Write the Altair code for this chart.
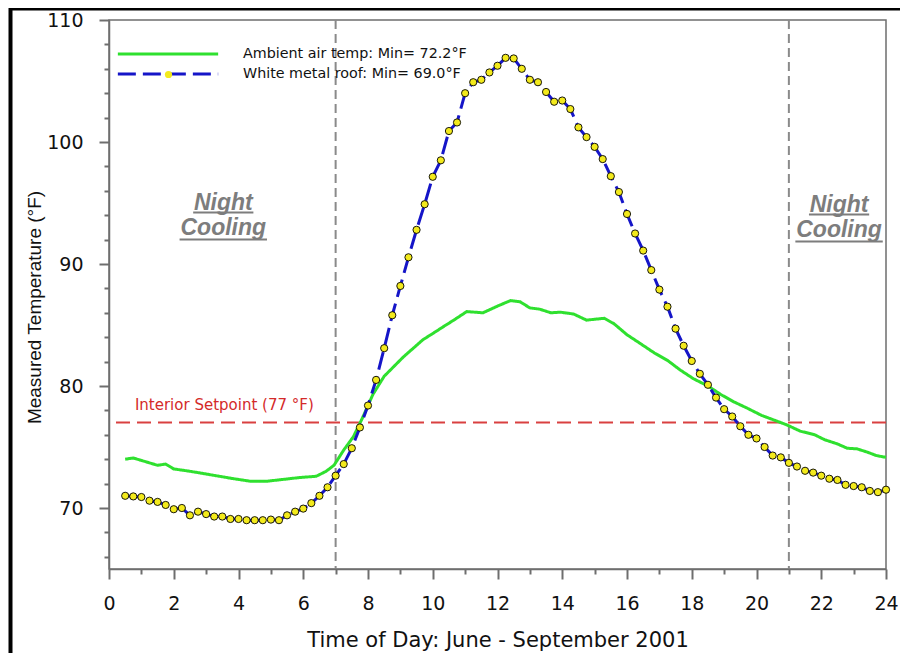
import altair as alt
import pandas as pd

# ---------------- data ----------------
series_names = ["Ambient air temp: Min= 72.2°F", "White metal roof: Min= 69.0°F"]
series_colors = ["#2fe02f", "#1515c8"]
series_dashes = [[1, 0], [18, 7]]

roof_hours = [
    0.5, 0.75, 1.0, 1.25, 1.5, 1.75, 2.0, 2.25,
    2.5, 2.75, 3.0, 3.25, 3.5, 3.75, 4.0, 4.25,
    4.5, 4.75, 5.0, 5.25, 5.5, 5.75, 6.0, 6.25,
    6.5, 6.75,
    7.0, 7.25, 7.5, 7.75, 8.0, 8.25, 8.5, 8.75,
    9.0, 9.25, 9.5, 9.75, 10.0, 10.25, 10.5, 10.75,
    11.0, 11.25, 11.5, 11.75, 12.0, 12.25, 12.5, 12.75,
    13.0, 13.25, 13.5, 13.75, 14.0, 14.25, 14.5, 14.75,
    15.0, 15.25, 15.5, 15.75, 16.0, 16.25, 16.5, 16.75,
    17.0, 17.25, 17.5, 17.75, 18.0, 18.25, 18.5, 18.75,
    19.0, 19.25, 19.5, 19.75, 20.0, 20.25, 20.5, 20.75,
    21.0, 21.25, 21.5, 21.75, 22.0, 22.25, 22.5, 22.75,
    23.0, 23.25, 23.5, 23.75, 24.0,
]
roof_temp = [
    71.0, 70.95, 70.9, 70.6, 70.5, 70.25, 69.9, 70.0,
    69.4, 69.7, 69.5, 69.3, 69.3, 69.1, 69.1, 69.0,
    69.0, 69.0, 69.05, 69.0, 69.4, 69.7, 69.95, 70.4,
    71.0, 71.7,
    72.65, 73.6, 74.9, 76.6, 78.4, 80.5, 83.1, 85.8,
    88.2, 90.55, 92.8, 94.9, 97.15, 98.5, 100.9, 101.6,
    104.0, 104.9, 105.1, 105.7, 106.25, 106.9, 106.85, 106.0,
    105.1, 104.9, 104.1, 103.3, 103.4, 102.7, 101.2, 100.4,
    99.6, 98.6, 97.2, 95.9, 94.1, 92.5, 91.1, 89.5,
    87.9, 86.5, 84.7, 83.3, 82.05, 81.0, 80.1, 79.05,
    78.1, 77.5, 76.7, 76.0, 75.7, 75.0, 74.3, 74.15,
    73.7, 73.4, 73.05, 72.9, 72.65, 72.4, 72.3, 71.9,
    71.8, 71.7, 71.4, 71.3, 71.5,
]

amb_hours = [
    0.5, 0.75, 1.0, 1.5, 1.75, 2.0, 2.4, 2.75, 3.3, 3.85, 4.35, 4.9,
    5.4, 5.9, 6.4, 6.7, 6.95, 7.25, 7.55, 7.85, 8.15, 8.5, 8.8, 9.1,
    9.4, 9.7, 10.0, 10.35, 10.65, 11.05, 11.55, 12.0, 12.4, 12.7, 13.0,
    13.3, 13.65, 13.95, 14.35, 14.75, 15.3, 15.6, 16.0, 16.4, 16.85,
    17.25, 17.65, 18.05, 18.5, 18.9, 19.3, 19.7, 20.15, 20.55, 20.95,
    21.35, 21.8, 22.1, 22.5, 22.8, 23.1, 23.4, 23.7, 24.0,
]
amb_temp = [
    74.0, 74.1, 73.9, 73.5, 73.6, 73.2, 73.05, 72.9, 72.65, 72.4, 72.2, 72.2,
    72.35, 72.5, 72.6, 73.0, 73.5, 74.75, 75.85, 77.5, 79.3, 80.8, 81.6, 82.4,
    83.1, 83.8, 84.3, 84.9, 85.4, 86.1, 86.0, 86.55, 87.0, 86.9, 86.4,
    86.3, 86.0, 86.05, 85.9, 85.4, 85.55, 85.1, 84.2, 83.5, 82.7,
    82.1, 81.3, 80.6, 80.0, 79.3, 78.7, 78.2, 77.6, 77.2, 76.8,
    76.3, 76.0, 75.6, 75.25, 74.9, 74.85, 74.6, 74.3, 74.15,
]

setpoint = [77]
period_bounds = [7, 21]

y_major = [70, 80, 90, 100, 110]
y_minor = [66, 68, 72, 74, 76, 78, 82, 84, 86, 88, 92, 94, 96, 98,
           102, 104, 106, 108]
x_major = [0, 2, 4, 6, 8, 10, 12, 14, 16, 18, 20, 22, 24]
x_minor = [1, 3, 5, 7, 9, 11, 13, 15, 17, 19, 21, 23]

night_text = ["Night", "Cooling", "Night", "Cooling"]
night_x = [3.53, 3.53, 22.55, 22.55]
night_y = [95.0, 92.95, 94.85, 92.8]
underline_x1 = [2.6, 2.18, 21.62, 21.2]
underline_x2 = [4.46, 4.88, 23.48, 23.9]
underline_y = [94.22, 92.0, 94.05, 91.85]

setpoint_label = ["Interior Setpoint (77 °F)"]
setpoint_label_x = [0.8]
setpoint_label_y = [78.46]

# ---------------- styling ----------------
FONT = "DejaVu Sans"
FONT2 = "Liberation Sans"
GRAY = "#6e6e6e"
MARKER_FILL = "#f3ea1c"
W, H = 777, 549

xs = alt.Scale(domain=[0, 24], nice=False, zero=False)
ys = alt.Scale(domain=[65, 110], nice=False, zero=False)

x_axis_major = alt.Axis(
    values=x_major, ticks=True, tickSize=10, tickWidth=2, tickColor=GRAY,
    domainColor=GRAY, domainWidth=1.5, grid=False, orient="bottom", zindex=1,
    labelFont=FONT, labelFontSize=19, labelColor="#111111", labelPadding=15,
    labelFlush=False,
    title="Time of Day: June - September 2001", titleFont=FONT,
    titleFontSize=21, titleFontWeight="normal", titleColor="#111111",
    titleY=60,
)
y_axis_major = alt.Axis(
    values=y_major, ticks=True, tickSize=10, tickWidth=2, tickColor=GRAY,
    domainColor=GRAY, domainWidth=1.5, grid=False, orient="left", zindex=1,
    labelFont=FONT, labelFontSize=19, labelColor="#111111", labelPadding=16,
    labelFlush=False,
    title="Measured Temperature (°F)", titleFont=FONT2, titleFontSize=19,
    titleFontWeight="normal", titleColor="#111111", titleX=-65, titleY=287,
)
x_axis_minor = alt.Axis(values=x_minor, ticks=True, tickSize=5, tickWidth=2,
                        tickColor=GRAY, domain=False, labels=False, zindex=1,
                        grid=False, title=None, orient="bottom")
y_axis_minor = alt.Axis(values=y_minor, ticks=True, tickSize=5, tickWidth=2,
                        tickColor=GRAY, domain=False, labels=False, zindex=1,
                        grid=False, title=None, orient="left")

roof_df = pd.DataFrame({"hour": roof_hours, "temp": roof_temp,
                        "series": series_names[1],
                        "marker": series_names[1]})
amb_df = pd.DataFrame({"hour": amb_hours, "temp": amb_temp,
                       "series": series_names[0]})
lines_df = pd.concat([amb_df, roof_df[["hour", "temp", "series"]]],
                     ignore_index=True)

legend = alt.Legend(
    title=None, orient="none", legendX=49, legendY=24, padding=0,
    symbolType="M-5.9,0H5.9", symbolSize=289, symbolStrokeWidth=3,
    labelFont=FONT, labelFontSize=14.3, labelColor="#111111",
    labelOffset=65, rowPadding=2, labelLimit=400,
)

marker_legend = alt.Legend(
    title=None, orient="none", legendX=55, legendY=50, padding=0,
    symbolType="circle", symbolSize=52, symbolFillColor=MARKER_FILL,
    symbolStrokeColor="#000000", symbolStrokeWidth=0.9, symbolOpacity=1,
    labelExpr="''", labelFontSize=8, labelOffset=0, zindex=2,
)

lines = alt.Chart(lines_df).mark_line(strokeWidth=3).encode(
    x=alt.X("hour:Q", scale=xs, axis=x_axis_major),
    y=alt.Y("temp:Q", scale=ys, axis=y_axis_major),
    color=alt.Color("series:N", scale=alt.Scale(domain=series_names,
                                                range=series_colors),
                    legend=legend),
    strokeDash=alt.StrokeDash("series:N",
                              scale=alt.Scale(domain=series_names,
                                              range=series_dashes),
                              legend=legend),
)

points = alt.Chart(roof_df).mark_point(
    filled=True, fill=MARKER_FILL, stroke="#000000",
    strokeWidth=0.9, size=52, opacity=1,
).encode(
    x=alt.X("hour:Q", scale=xs, axis=None),
    y=alt.Y("temp:Q", scale=ys, axis=None),
    shape=alt.Shape("marker:N",
                    scale=alt.Scale(domain=[series_names[1]],
                                    range=["circle"]),
                    legend=marker_legend),
)

hrule = alt.Chart(pd.DataFrame({"y": setpoint})).mark_rule(
    color="#d94040", strokeDash=[14, 7], strokeWidth=2,
).encode(y=alt.Y("y:Q", scale=ys, axis=y_axis_minor))

vrules = alt.Chart(pd.DataFrame({"x": period_bounds})).mark_rule(
    color="#8a8a8a", strokeDash=[9, 5], strokeWidth=2,
).encode(x=alt.X("x:Q", scale=xs, axis=x_axis_minor))

night_df = pd.DataFrame({"x": night_x, "y": night_y, "t": night_text})
night = alt.Chart(night_df).mark_text(
    font=FONT2, fontSize=23, fontWeight="bold", fontStyle="italic",
    color="#7d7d7d", align="center", baseline="middle",
).encode(
    x=alt.X("x:Q", scale=xs, axis=None),
    y=alt.Y("y:Q", scale=ys, axis=None),
    text="t:N",
)

ul_df = pd.DataFrame({"x1": underline_x1, "x2": underline_x2,
                      "y": underline_y})
underline = alt.Chart(ul_df).mark_rule(color="#7d7d7d", strokeWidth=2).encode(
    x=alt.X("x1:Q", scale=xs, axis=None),
    x2="x2:Q",
    y=alt.Y("y:Q", scale=ys, axis=None),
)

sp_df = pd.DataFrame({"x": setpoint_label_x, "y": setpoint_label_y,
                      "t": setpoint_label})
sp_text = alt.Chart(sp_df).mark_text(
    font=FONT, fontSize=15, color="#d42a2a", align="left", baseline="middle",
).encode(
    x=alt.X("x:Q", scale=xs, axis=None),
    y=alt.Y("y:Q", scale=ys, axis=None),
    text="t:N",
)

border = alt.Chart(pd.DataFrame({"a": [0]})).mark_rect(
    fillOpacity=0, stroke="#000000", strokeWidth=4,
).encode(
    x=alt.value(-98.5), x2=alt.value(W + 200),
    y=alt.value(-11.5), y2=alt.value(H + 200),
)

chart = alt.layer(
    border, vrules, hrule, sp_text, night, underline, lines, points,
).resolve_axis(
    x="independent", y="independent",
).resolve_legend(
    color="shared", shape="independent",
).properties(
    width=W, height=H,
    padding={"left": 101, "top": 12, "right": 14, "bottom": 84},
    autosize=alt.AutoSizeParams(type="none"),
    background="white",
).configure_view(
    stroke=GRAY, strokeWidth=1.5,
)

chart.save("out.html", embed_options={"renderer": "svg", "actions": False})
